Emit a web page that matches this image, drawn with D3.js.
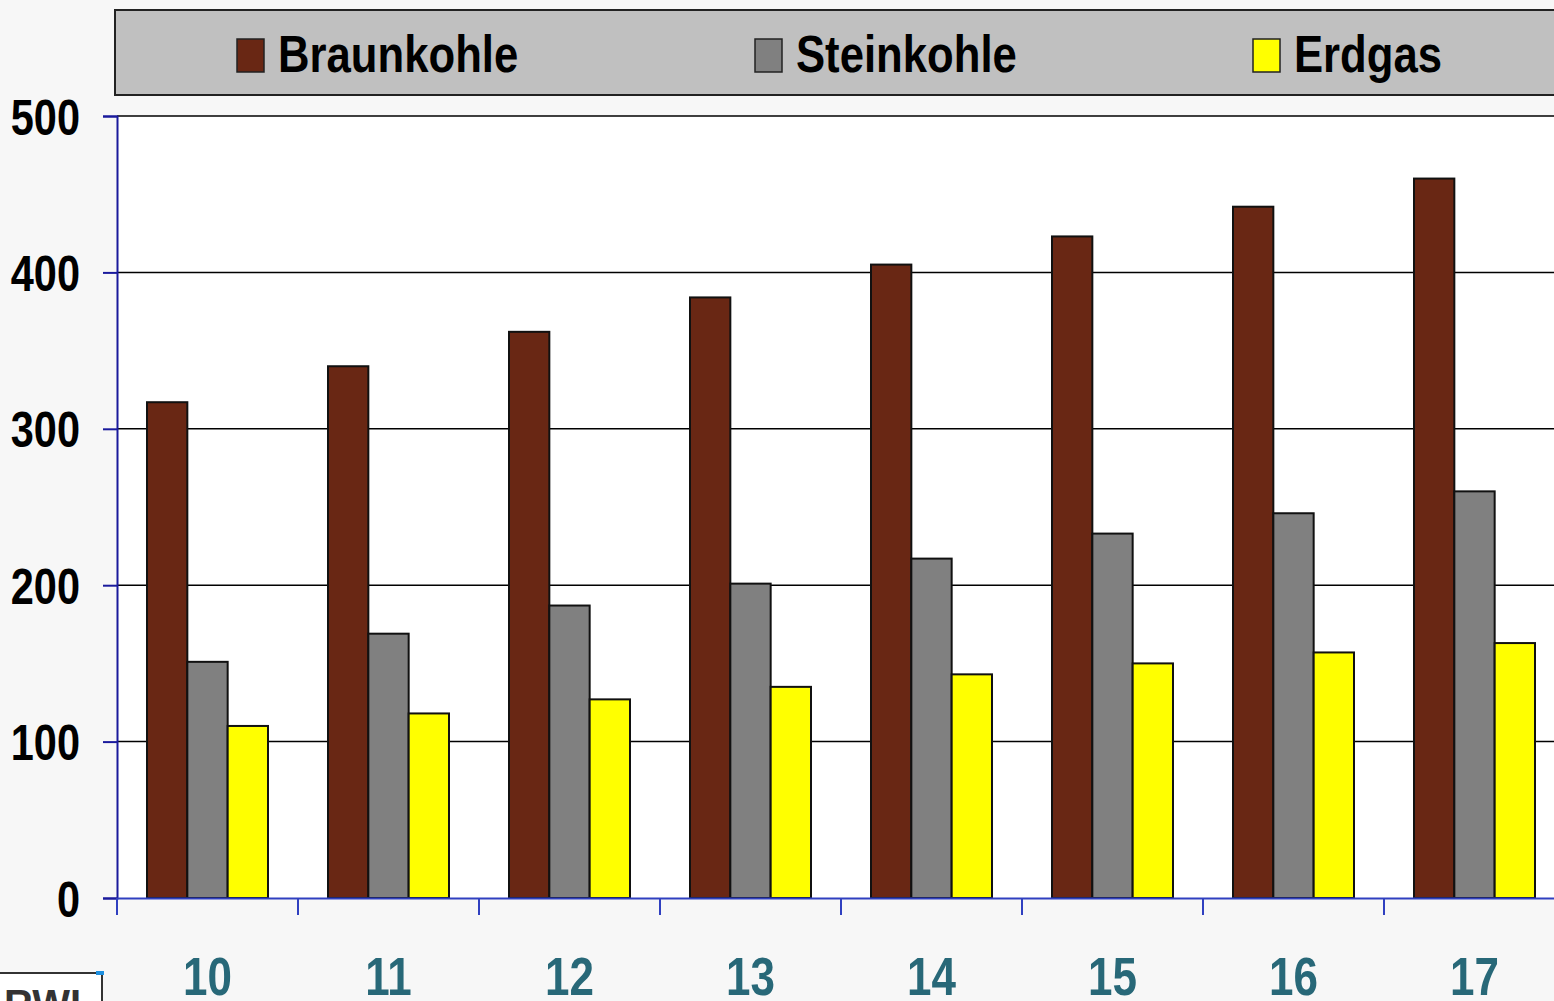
<!DOCTYPE html>
<html>
<head>
<meta charset="utf-8">
<script src="https://cdn.jsdelivr.net/npm/d3@7"></script>
<style>
  body { margin: 0; background: #f7f7f7; overflow: hidden; }
  svg { display: block; }
  text { font-family: "Liberation Sans", Arial, sans-serif; font-weight: bold; }
</style>
</head>
<body>
<div id="chart"></div>
<script>
// data
var years = ["10", "11", "12", "13", "14", "15", "16", "17"];
var seriesNames = ["Braunkohle", "Steinkohle", "Erdgas"];
var braunkohle = [317, 340, 362, 384, 405, 423, 442, 460];
var steinkohle = [151, 169, 187, 201, 217, 233, 246, 260];
var erdgas = [110, 118, 127, 135, 143, 150, 157, 163];
var yTicks = [0, 100, 200, 300, 400, 500];
var colors = ["#692714", "#808080", "#ffff00"];

var W = 1554, H = 1001;
var margin = {top: 116, left: 117, bottom: 103};
var plotRight = 1565; // plot runs a bit past the right edge of the picture
var narrow = 0.83;    // no condensed font installed, so squeeze the text

var svg = d3.select("#chart").append("svg")
  .attr("width", W)
  .attr("height", H);

var values = [braunkohle, steinkohle, erdgas];
var table = years.map(function(y, i) {
  return {year: y, vals: seriesNames.map(function(s, j) { return {name: s, v: values[j][i], k: j}; })};
});

var x0 = d3.scaleBand().domain(years).range([margin.left, plotRight]);
var x1 = d3.scaleBand().domain(seriesNames).range([30, 151]);
var y = d3.scaleLinear().domain([0, 500]).range([H - margin.bottom, margin.top]);

// plot area
svg.append("rect")
  .attr("x", margin.left).attr("y", margin.top)
  .attr("width", plotRight - margin.left).attr("height", y(0) - margin.top)
  .attr("fill", "#fff");

// gridlines
svg.append("g").selectAll("line").data(yTicks.slice(1)).join("line")
  .attr("x1", margin.left).attr("x2", plotRight)
  .attr("y1", function(d) { return y(d); }).attr("y2", function(d) { return y(d); })
  .attr("stroke", "#000").attr("stroke-width", 1.5);

// bars
var groups = svg.append("g").selectAll("g").data(table).join("g")
  .attr("transform", function(d) { return "translate(" + x0(d.year) + ",0)"; });
groups.selectAll("rect").data(function(d) { return d.vals; }).join("rect")
  .attr("x", function(d) { return x1(d.name); })
  .attr("y", function(d) { return y(d.v); })
  .attr("width", x1.bandwidth())
  .attr("height", function(d) { return y(0) - y(d.v); })
  .attr("fill", function(d) { return colors[d.k]; })
  .attr("stroke", "#111").attr("stroke-width", 2);

// y axis
var yAxis = d3.axisLeft(y).tickValues(yTicks).tickSize(14).tickPadding(23);
var yg = svg.append("g").attr("transform", "translate(" + margin.left + ",0)").call(yAxis);
yg.select(".domain").attr("stroke", "#1a1a9c").attr("stroke-width", 2);
yg.selectAll(".tick line").attr("stroke", "#1a1a9c").attr("stroke-width", 2);
yg.selectAll(".tick text").attr("fill", "#000").attr("font-size", 50)
  .attr("font-family", null).attr("dy", "0.36em")
  .attr("x", -37 / narrow)
  .attr("transform", "scale(" + narrow + ",1)");

// x axis
var xAxis = d3.axisBottom(x0).tickSize(0).tickPadding(59);
var xg = svg.append("g").attr("transform", "translate(0," + y(0) + ")").call(xAxis);
xg.select(".domain").attr("stroke", "#3040c0").attr("stroke-width", 2);
xg.selectAll(".tick text").attr("fill", "#286878").attr("font-size", 53)
  .attr("font-family", null).attr("dy", "0.71em")
  .attr("transform", "scale(" + narrow + ",1)");
// ticks between the groups
xg.append("g").selectAll("line").data(years).join("line")
  .attr("x1", function(d) { return x0(d); }).attr("x2", function(d) { return x0(d); })
  .attr("y1", 0).attr("y2", 17)
  .attr("stroke", "#3040c0").attr("stroke-width", 2);

// legend
var legend = svg.append("g");
legend.append("rect")
  .attr("x", 115).attr("y", 10).attr("width", 1450).attr("height", 85)
  .attr("fill", "#c0c0c0").attr("stroke", "#222").attr("stroke-width", 2);
var legX = [237, 755, 1253];
var items = legend.selectAll("g.item").data(seriesNames).join("g")
  .attr("class", "item")
  .attr("transform", function(d, i) { return "translate(" + legX[i] + ",39)"; });
items.append("rect")
  .attr("width", 27).attr("height", 33)
  .attr("fill", function(d, i) { return colors[i]; })
  .attr("stroke", "#222").attr("stroke-width", 1.5);
items.append("text")
  .attr("x", 41 / 0.84).attr("y", 33)
  .attr("transform", "scale(0.84,1)")
  .attr("font-size", 52).attr("fill", "#000")
  .text(function(d) { return d; });

// logo in the lower left corner, mostly cut off
var logo = svg.append("g");
logo.append("rect").attr("x", -5).attr("y", 973).attr("width", 107).attr("height", 60)
  .attr("fill", "#fff").attr("stroke", "#333").attr("stroke-width", 2);
logo.append("rect").attr("x", 96).attr("y", 971).attr("width", 8).attr("height", 4).attr("fill", "#1e90e0");
logo.append("text").attr("x", 4).attr("y", 1018)
  .attr("font-family", "'Liberation Serif', serif").attr("font-weight", "normal")
  .attr("font-size", 40).attr("fill", "#333").text("RWI");
</script>
</body>
</html>
